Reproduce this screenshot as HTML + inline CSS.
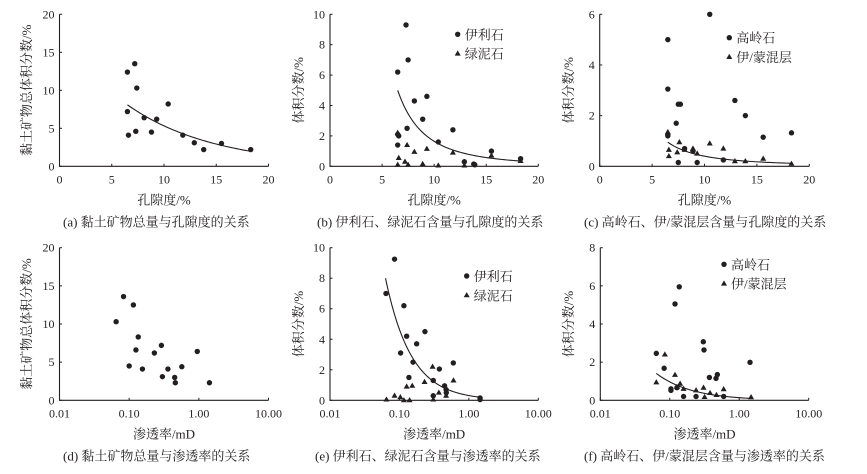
<!DOCTYPE html>
<html><head><meta charset="utf-8">
<style>
html,body{margin:0;padding:0;background:#fff;}
svg{display:block;}
text{fill:#231f20;}
.num{font-family:"Liberation Serif",serif;font-size:12px;}
.cjk{font-family:"Liberation Serif","Noto Serif CJK SC",serif;font-size:13px;}
</style></head>
<body>
<svg id="chart" width="867" height="474" viewBox="0 0 867 474" xmlns="http://www.w3.org/2000/svg"></svg>
<script>
// ---- Panel (a): total clay vs porosity
const aPor = [6.5,7.2,7.4,6.5,6.6,7.3,8.1,8.8,9.3,10.4,11.8,12.9,13.8,15.5,18.3];
const aClay = [12.4,13.5,10.3,7.2,4.1,4.6,6.4,4.5,6.2,8.2,4.1,3.1,2.2,3.0,2.2];
const aFit = [17.6,-0.1196,6.5,18.2]; // exp fit a,b,xmin,xmax
// ---- Panel (b): illite/chlorite vs porosity
const bIlliteX = [6.5,7.3,7.5,8.1,9.3,8.9,7.4,6.5,6.6,6.5,10.4,11.8,12.9,13.8,13.9,15.5,18.3];
const bIlliteY = [6.2,9.3,7.0,4.3,4.6,3.1,2.5,2.1,2.0,1.4,1.6,2.4,0.3,0.15,0.1,1.0,0.5];
const bChlX = [6.5,6.6,7.2,7.4,7.5,6.5,8.1,8.9,9.3,10.4,11.8,12.9,15.5,18.3];
const bChlY = [2.2,0.55,0.3,1.4,0.1,0.1,0.95,0.15,1.15,0.05,0.9,0.05,0.7,0.35];
const bFit = [5.0,-2.583,6.5,18.2]; // power fit y=a*(x/xmin)^b
// ---- Panel (c): kaolinite / I-S vs porosity
const cKaoX = [6.5,10.5,6.5,7.5,7.7,7.3,6.5,6.5,7.5,8.1,8.9,9.3,11.8,12.9,13.9,15.6,18.3];
const cKaoY = [5.0,6.0,3.05,2.45,2.45,1.7,1.25,1.2,0.15,0.7,0.6,0.15,0.25,2.6,2.0,1.15,1.32];
const cISX = [6.5,6.6,6.6,7.4,7.6,8.1,8.9,9.3,10.5,11.8,12.9,13.9,15.6,18.3];
const cISY = [1.35,0.65,0.4,0.55,0.95,0.65,0.7,0.5,0.9,0.7,0.2,0.2,0.3,0.1];
const cFit = [0.95,-2.01,6.5,18.2];
// ---- Panel (d): total clay vs permeability
const dPerm = [0.065,0.083,0.115,0.1,0.125,0.135,0.155,0.23,0.29,0.3,0.36,0.45,0.46,0.57,0.95,1.42];
const dClay = [10.3,13.6,12.5,4.5,6.6,8.3,4.1,6.2,7.2,3.1,4.1,3.0,2.3,4.4,6.4,2.3];
// ---- Panel (e): illite/chlorite vs permeability
const eIlliteX = [0.064,0.085,0.116,0.127,0.104,0.233,0.177,0.157,0.137,0.307,0.376,0.597,0.447,0.473,0.307,1.45,1.45,0.47];
const eIlliteY = [7.0,9.25,6.2,4.2,3.1,4.5,3.7,2.5,1.5,1.3,2.05,2.45,0.95,0.5,0.3,0.15,0.05,0.7];
const eChlX = [0.065,0.085,0.103,0.116,0.14,0.127,0.153,0.23,0.3,0.37,0.307,0.47,0.6];
const eChlY = [0.05,0.3,0.2,0,0,0.9,0.95,1.2,2.2,0.5,0.05,0.3,1.3];
const eFit = [8.0,-1.176,0.063,1.45];
// ---- Panel (f): kaolinite / I-S vs permeability
const fKaoX = [0.064,0.083,0.104,0.104,0.119,0.137,0.127,0.158,0.239,0.304,0.311,0.372,0.463,0.484,0.597,1.43];
const fKaoY = [2.46,1.68,0.6,0.52,5.05,5.95,0.66,0.2,0.2,3.07,2.64,1.2,1.15,1.35,0.2,1.99];
const fISX = [0.064,0.085,0.119,0.141,0.158,0.239,0.306,0.317,0.38,0.47,0.597,1.48,0.127];
const fISY = [0.94,2.4,1.33,0.87,0.6,0.52,0.66,0.17,0.38,0.28,0.58,0.16,0.7];
const fFit = [1.41,-0.848,0.064,1.45];
const linTicks = ['0','5','10','15','20'];
const logTicks = ['0.01','0.10','1.00','10.00'];
const yTicksA = ['0','5','10','15','20'];
const yTicksB = ['0','2','4','6','8','10'];
const yTicksC = ['0','2','4','6'];
const yTicksF = ['0','2','4','6','8'];

const NS='http://www.w3.org/2000/svg';
const svg=document.getElementById('chart');
const C='#231f20';
function mk(tag,attrs,parent){const e=document.createElementNS(NS,tag);for(const k in attrs)e.setAttribute(k,attrs[k]);(parent||svg).appendChild(e);return e;}

function panel(p){
  const g=mk('g',{});
  
  
  const ymax=parseFloat(p.yt[p.yt.length-1]);
  const sx=p.log?(v=>p.x0+(Math.log10(v)+2)/3*(p.x1-p.x0)):(v=>p.x0+v/20*(p.x1-p.x0));
  const sy=v=>p.y0-v/ymax*(p.y0-p.y1);
  // axes
  const ax=mk('path',{d:`M${p.x0},${p.y1} V${p.y0} H${p.x1}`,stroke:C,'stroke-width':1.1,fill:'none'},g);
  
  
  const xt=p.log?logTicks:linTicks;
  xt.forEach((t,i)=>{
    const x=p.x0+i/(xt.length-1)*(p.x1-p.x0);
    mk('line',{x1:x,x2:x,y1:p.y0,y2:p.y0-2.5,stroke:C,'stroke-width':1},g);
    const tx=mk('text',{x:x,y:p.y0+17,'text-anchor':'middle',class:'num'},g);
    tx.textContent=t;
    
    
  });
  p.yt.forEach(t=>{
    const y=sy(parseFloat(t));
    mk('line',{x1:p.x0,x2:p.x0+2.5,y1:y,y2:y,stroke:C,'stroke-width':1},g);
    const tx=mk('text',{x:p.x0-5,y:y+4,'text-anchor':'end',class:'num'},g);
    tx.textContent=t;
    
    
  });
  // fit curve
  if(p.fit){
    const [a,b,lo,hi]=p.fit;let d='';
    for(let i=0;i<=60;i++){
      const x=p.log?Math.pow(10,Math.log10(lo)+i/60*(Math.log10(hi)-Math.log10(lo))):lo+i/60*(hi-lo);
      const y=p.fitType==='exp'?a*Math.exp(b*x):a*Math.pow(x/lo,b);
      d+=(i?'L':'M')+sx(x).toFixed(2)+','+sy(y).toFixed(2);
    }
    const c=mk('path',{d:d,stroke:C,'stroke-width':1.1,fill:'none'},g);
    
    
  }
  p.series.forEach(s=>{
    s.x.forEach((xv,i)=>{
      const X=sx(xv),Y=sy(s.y[i]);
      let m;
      if(s.tri) m=mk('path',{d:`M${X},${Y-3.2}L${X+3},${Y+2}L${X-3},${Y+2}Z`,fill:C},g);
      else m=mk('circle',{cx:X,cy:Y,r:2.7,fill:C},g);
      
      
    });
  });
  if(p.legend){
    p.legend.forEach((l,i)=>{
      const ly=p.legY+i*19.3;
      let m;
      if(l.tri) m=mk('path',{d:`M${p.legX},${ly-3.2}L${p.legX+3},${ly+2}L${p.legX-3},${ly+2}Z`,fill:C},g);
      else m=mk('circle',{cx:p.legX,cy:ly,r:2.7,fill:C},g);
      
      
      const t=mk('text',{x:p.legX+7,y:ly+5,class:'cjk'},g);
      t.textContent=l.label;
      
      
    });
  }
  const xtitle=mk('text',{x:(p.x0+p.x1)/2-p.xtOff,y:p.y0+38,'text-anchor':'middle',class:'cjk'},g);
  xtitle.textContent=p.xtitle;
  
  
  const yc=(p.y0+p.y1)/2;
  const yt=mk('text',{x:0,y:0,transform:`translate(${p.ytX},${yc}) rotate(-90)`,'text-anchor':'middle',class:'cjk'},g);
  yt.textContent=p.ytitle;
  
  
  const cap=mk('text',{x:p.capX,y:p.y0+60,class:'cjk'},g);
  cap.textContent=p.cap;
  
  
}

const T=14.3,B=166.3,T2=247.7,B2=400.3;
panel({name:'panel-a',x0:59.5,x1:268.5,y0:B,y1:T,yt:yTicksA,fit:aFit,fitType:'exp',
  series:[{name:'clay-total',x:aPor,y:aClay}],xtitle:'孔隙度/%',xtOff:0,ytitle:'黏土矿物总体积分数/%',ytX:31,
  cap:'(a) 黏土矿物总量与孔隙度的关系',capX:63});
panel({name:'panel-b',x0:330,x1:538.3,y0:B,y1:T,yt:yTicksB,fit:bFit,
  series:[{name:'illite',x:bIlliteX,y:bIlliteY},{name:'chlorite',x:bChlX,y:bChlY,tri:true}],
  legend:[{label:'伊利石'},{label:'绿泥石',tri:true}],legX:457.7,legY:34.3,
  xtitle:'孔隙度/%',xtOff:0,ytitle:'体积分数/%',ytX:303,cap:'(b) 伊利石、绿泥石含量与孔隙度的关系',capX:317});
panel({name:'panel-c',x0:599.7,x1:809.3,y0:B,y1:T,yt:yTicksC,fit:cFit,
  series:[{name:'kaolinite',x:cKaoX,y:cKaoY},{name:'illite-smectite',x:cISX,y:cISY,tri:true}],
  legend:[{label:'高岭石'},{label:'伊/蒙混层',tri:true}],legX:729.3,legY:37.7,
  xtitle:'孔隙度/%',xtOff:0,ytitle:'体积分数/%',ytX:573,cap:'(c) 高岭石、伊/蒙混层含量与孔隙度的关系',capX:584});
panel({name:'panel-d',x0:59.5,x1:268.5,y0:B2,y1:T2,yt:yTicksA,log:true,
  series:[{name:'clay-total',x:dPerm,y:dClay}],xtitle:'渗透率/mD',xtOff:0,ytitle:'黏土矿物总体积分数/%',ytX:31,
  cap:'(d) 黏土矿物总量与渗透率的关系',capX:63});
panel({name:'panel-e',x0:330,x1:538.3,y0:B2,y1:T2,yt:yTicksB,log:true,fit:eFit,
  series:[{name:'illite',x:eIlliteX,y:eIlliteY},{name:'chlorite',x:eChlX,y:eChlY,tri:true}],
  legend:[{label:'伊利石'},{label:'绿泥石',tri:true}],legX:466.7,legY:276,
  xtitle:'渗透率/mD',xtOff:0,ytitle:'体积分数/%',ytX:303,cap:'(e) 伊利石、绿泥石含量与渗透率的关系',capX:315});
panel({name:'panel-f',x0:600.3,x1:808.7,y0:B2,y1:T2,yt:yTicksF,log:true,fit:fFit,
  series:[{name:'kaolinite',x:fKaoX,y:fKaoY},{name:'illite-smectite',x:fISX,y:fISY,tri:true}],
  legend:[{label:'高岭石'},{label:'伊/蒙混层',tri:true}],legX:724,legY:264.3,
  xtitle:'渗透率/mD',xtOff:0,ytitle:'体积分数/%',ytX:573,cap:'(f) 高岭石、伊/蒙混层含量与渗透率的关系',capX:584});
</script>
</body></html>
